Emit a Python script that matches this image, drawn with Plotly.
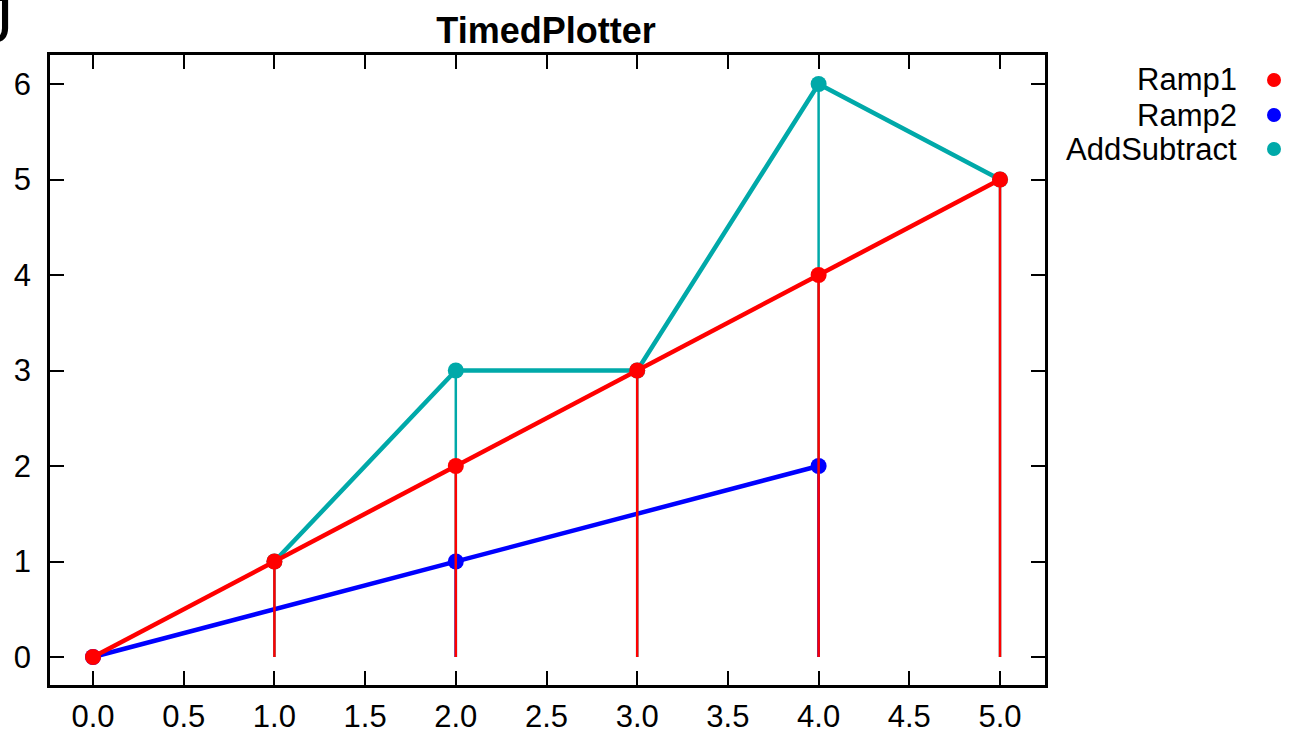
import plotly.graph_objects as go

# ---- data ----
ramp1_x = [0, 1, 2, 3, 4, 5]
ramp1_y = [0, 1, 2, 3, 4, 5]
ramp2_x = [0, 2, 4]
ramp2_y = [0, 1, 2]
addsub_x = [1, 2, 3, 4, 5]
addsub_y = [1, 3, 3, 6, 5]
series_names = ["Ramp1", "Ramp2", "AddSubtract"]
series_colors = ["#ff0000", "#0000ff", "#00a9a9"]
title_text = "TimedPlotter"

W, H = 1301, 729
ML, MR, MT, MB = 50, 256, 55, 44
FONT = "Liberation Sans, Arial, Helvetica, sans-serif"

fig = go.Figure()

def add_series(x, y, name, color):
    fig.add_trace(go.Scatter(
        x=x, y=y, name=name, mode="lines+markers",
        line=dict(color=color, width=4.5),
        marker=dict(color=color, size=16),
        error_y=dict(type="data", symmetric=False, array=[0] * len(y),
                     arrayminus=y, width=0, thickness=2.5, color=color),
        showlegend=False,
    ))

add_series(addsub_x, addsub_y, series_names[2], series_colors[2])
add_series(ramp2_x, ramp2_y, series_names[1], series_colors[1])
add_series(ramp1_x, ramp1_y, series_names[0], series_colors[0])

axis_common = dict(
    showline=True, linecolor="black", linewidth=2.5, mirror="ticks",
    ticks="inside", ticklen=14, tickwidth=2, tickcolor="black",
    showgrid=False, zeroline=False, automargin=False,
    tickfont=dict(family=FONT, size=31, color="black"),
)

fig.update_xaxes(range=[-0.237, 5.248], dtick=0.5, tick0=0, tickformat=".1f",
                 ticklabelstandoff=2, **axis_common)
fig.update_yaxes(range=[-0.293, 6.304], dtick=1, tick0=0,
                 ticklabelstandoff=10, **axis_common)

# legend drawn manually: right-aligned text with marker on the right
pw = W - ML - MR
ph = H - MT - MB
legend_y_px = [80, 115, 149]
text_right_px = 1239
marker_x_px = 1274
annotations = []
shapes = []
for name, color, ypx in zip(series_names, series_colors, legend_y_px):
    xp = (text_right_px - ML) / pw
    yp = 1 - (ypx - MT) / ph
    annotations.append(dict(
        xref="paper", yref="paper", x=xp, y=yp, xanchor="right", yanchor="middle",
        text=name, showarrow=False,
        font=dict(family=FONT, size=31, color="black"),
    ))
    mx = (marker_x_px - ML) / pw
    shapes.append(dict(
        type="circle", xref="paper", yref="paper",
        xsizemode="pixel", ysizemode="pixel",
        xanchor=mx, yanchor=yp, x0=-7, x1=7, y0=-7, y1=7,
        fillcolor=color, line=dict(width=0),
    ))

# clipped glyph at top-left corner (partly outside the page, as in the reference)
annotations.append(dict(
    xref="paper", yref="paper", x=(15 - ML) / pw, y=1 + (MT - 58) / ph,
    xanchor="right", yanchor="bottom", text="J", showarrow=False,
    font=dict(family=FONT, size=66, color="black"),
))

fig.update_layout(
    width=W, height=H,
    margin=dict(l=ML, r=MR, t=MT, b=MB, pad=0, autoexpand=False),
    paper_bgcolor="white", plot_bgcolor="white",
    title=dict(text="<b>" + title_text + "</b>", x=546 / W, xanchor="center",
               y=1 - 30 / H, yanchor="middle",
               font=dict(family=FONT, size=36, color="black")),
    annotations=annotations, shapes=shapes,
    showlegend=False,
)

fig.write_html("out.html", config={"displayModeBar": False},
               post_script="document.body.style.margin='0px';document.body.style.overflow='hidden';")
